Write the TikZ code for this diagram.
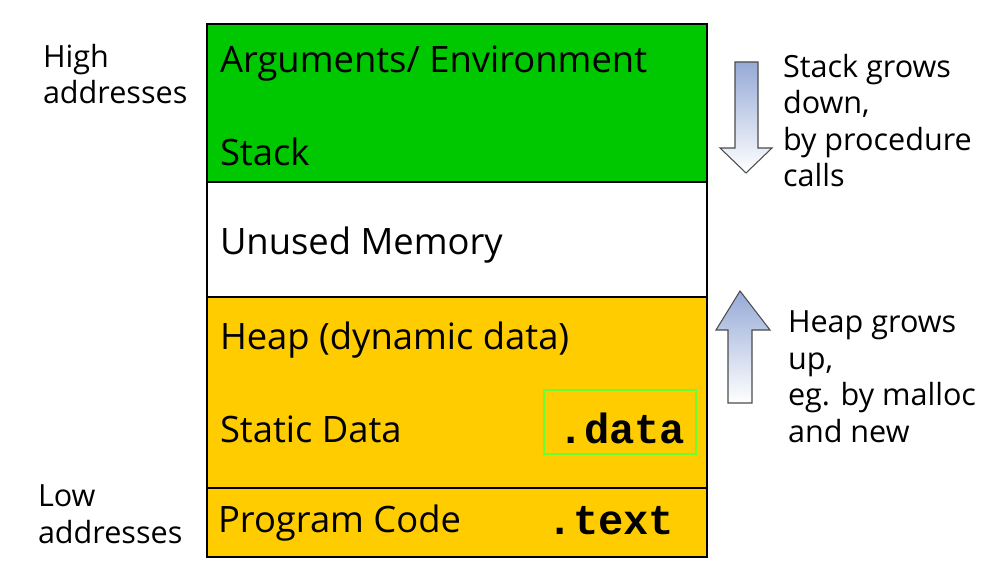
\documentclass[tikz,border=0pt]{standalone}
\usepackage{fontspec}
\setmainfont{Open Sans}
\newfontfamily\codefont{Liberation Mono}
\usepackage{xcolor}
\usetikzlibrary{positioning}

\definecolor{stackgreen}{RGB}{0,200,0}
\definecolor{heapyellow}{RGB}{255,204,0}
\definecolor{datalime}{RGB}{102,255,51}
\definecolor{arrowblue}{RGB}{150,170,215}

\begin{document}
\begin{tikzpicture}[
  x=0.02cm, y=-0.02cm,
  every node/.style={inner sep=0pt, outer sep=0pt},
  region/.style={draw, line width=1pt, minimum width=10cm, anchor=north west},
  boxtext/.style={font=\fontsize{20.7}{24}\selectfont, anchor=west},
  codetext/.style={font=\codefont\bfseries\fontsize{24}{27}\selectfont},
  sidetext/.style={font=\fontsize{17.4}{20.8}\selectfont, align=left, anchor=north west},
  growarrow/.style={draw=black!70, line width=0.6pt, top color=arrowblue, bottom color=white},
]
\useasboundingbox (0,0) rectangle (982,563);

% Memory regions
\node[region, fill=stackgreen, minimum height=3.16cm] (stack) at (207,24) {};
\node[region, fill=white, minimum height=2.30cm] (unused) at (207,182) {};
\node[region, fill=heapyellow, minimum height=3.82cm] (heap) at (207,297) {};
\node[region, fill=heapyellow, minimum height=1.38cm] (code) at (207,488) {};

% Region labels
\node[boxtext] (args) at (220,64) {Arguments/ Environment};
\node[boxtext] (stk) at (220,152) {Stack};
\node[boxtext] (unusedtxt) at (220,245) {Unused Memory};
\node[boxtext] (heaptxt) at (220,340) {Heap (dynamic data)};
\node[boxtext] (static) at (220,429) {Static Data};
\node[boxtext] (prog) at (218,523) {Program Code};

% Segment names
\node[draw=datalime, line width=0.6pt, minimum width=3.04cm, minimum height=1.28cm] (databox) at (620,422) {};
\node[codetext] (data) at (622,428) {.data};
\node[codetext] (text) at (611,521) {.text};

% Address labels
\node[sidetext] (high) at (43,44) {High\\addresses};
\node[sidetext] (low) at (38,485) {Low\\addresses};

% Growth arrows
\draw[growarrow] (735,62) -- (758,62) -- (758,148) -- (772,148) -- (746,173)
  -- (720,148) -- (735,148) -- cycle;
\draw[growarrow] (740,291) -- (770,330) -- (752,330) -- (752,403) -- (728,403)
  -- (728,330) -- (716,330) -- cycle;

% Growth notes
\node[sidetext] (stacknote) at (783,54) {Stack grows\\down,\\by procedure\\calls};
\node[sidetext] (heapnote) at (788,311) {Heap grows\\up,\\eg. by malloc\\and new};

\end{tikzpicture}
\end{document}
